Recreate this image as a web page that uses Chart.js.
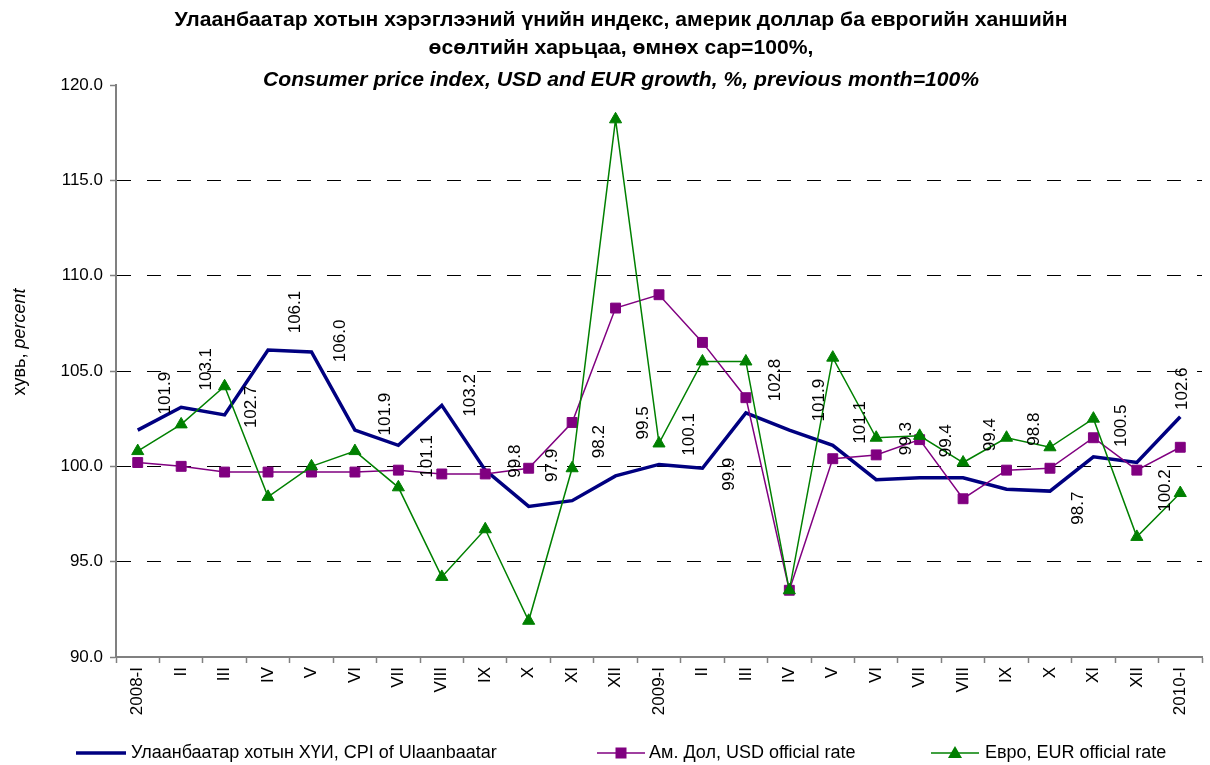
<!DOCTYPE html>
<html>
<head>
<meta charset="utf-8">
<script src="https://cdn.jsdelivr.net/npm/chart.js@4.4.0/dist/chart.umd.min.js"></script>
<style>
  html, body { margin: 0; padding: 0; background: #fff; }
</style>
</head>
<body>
<canvas id="cpi-chart" width="1210" height="765"></canvas>
<script>
// months on the x axis
var months = ["2008-I", "II", "III", "IV", "V", "VI", "VII", "VIII", "IX", "X", "XI", "XII",
              "2009-I", "II", "III", "IV", "V", "VI", "VII", "VIII", "IX", "X", "XI", "XII",
              "2010-I"];

// previous month = 100
var cpiValues = [101.9, 103.1, 102.7, 106.1, 106.0, 101.9, 101.1, 103.2, 99.8, 97.9, 98.2, 99.5,
                 100.1, 99.9, 102.8, 101.9, 101.1, 99.3, 99.4, 99.4, 98.8, 98.7, 100.5, 100.2,
                 102.6];
var usdValues = [100.2, 100.0, 99.7, 99.7, 99.7, 99.7, 99.8, 99.6, 99.6, 99.9, 102.3, 108.3,
                 109.0, 106.5, 103.6, 93.5, 100.4, 100.6, 101.4, 98.3, 99.8, 99.9, 101.5, 99.8,
                 101.0];
var eurValues = [100.8, 102.2, 104.2, 98.4, 100.0, 100.8, 98.9, 94.2, 96.7, 91.9, 99.9, 118.2,
                 101.2, 105.5, 105.5, 93.5, 105.7, 101.5, 101.6, 100.2, 101.5, 101.0, 102.5, 96.3,
                 98.6];

var yMin = 90, yMax = 120, yStep = 5;

var seriesNames = ["Улаанбаатар хотын ХҮИ, CPI of Ulaanbaatar",
                   "Ам. Дол, USD official rate",
                   "Евро, EUR official rate"];
var titleLines = ["Улаанбаатар хотын хэрэглээний үнийн индекс, америк доллар ба еврогийн ханшийн",
                  "өсөлтийн харьцаа, өмнөх сар=100%,",
                  "Consumer price index, USD and EUR growth, %, previous month=100%"];

var navy = "#000080", purple = "#800080", green = "#008000";
var fontFamily = "'Liberation Sans', Arial, sans-serif";

// the value labels were hand-placed in the original, so nudge them a bit (px)
var labelDx = [28, 25, 27, 27, 29, 30, 29, 29, 30, 24, 27, 28,
               30, 27, 29, 30, 28, 30, 27, 27, 28, 28, 28, 28, 2];
var labelDy = [-37, -38, -8, -38, -11, -16, 11, -10, -9, -41, -59, -53,
               -30, 6, -33, -30, -23, -41, -37, -43, -60, 17, -31, 28, -28];

// titles, axis title, value labels and legend
var extrasPlugin = {
    id: "extras",
    afterDatasetsDraw: function(chart) {
        var ctx = chart.ctx;
        ctx.save();
        ctx.fillStyle = "#000";
        ctx.textAlign = "center";
        ctx.textBaseline = "middle";

        // title: condensed bold, squeezed to the width of the original
        ctx.font = "bold 21px " + fontFamily;
        var squeeze = 893 / ctx.measureText(titleLines[0]).width;
        var titleY = [20, 48, 80];
        for (var t = 0; t < titleLines.length; t++) {
            ctx.font = (t === 2 ? "italic " : "") + "bold 21px " + fontFamily;
            ctx.save();
            ctx.translate(621, titleY[t]);
            ctx.scale(squeeze, 1);
            ctx.fillText(titleLines[t], 0, 0);
            ctx.restore();
        }

        // y axis title, mixed upright / italic
        ctx.save();
        ctx.translate(20, 342);
        ctx.rotate(-Math.PI / 2);
        ctx.textAlign = "left";
        var part1 = "хувь, ";
        ctx.font = "18px " + fontFamily;
        var w1 = ctx.measureText(part1).width;
        ctx.font = "italic 18px " + fontFamily;
        var w2 = ctx.measureText("percent").width;
        var start = -(w1 + w2) / 2;
        ctx.font = "18px " + fontFamily;
        ctx.fillText(part1, start, 0);
        ctx.font = "italic 18px " + fontFamily;
        ctx.fillText("percent", start + w1, 0);
        ctx.restore();

        // CPI value labels, rotated
        var meta = chart.getDatasetMeta(0);
        ctx.font = "17px " + fontFamily;
        meta.data.forEach(function(pt, i) {
            ctx.save();
            ctx.translate(pt.x + labelDx[i], pt.y + labelDy[i]);
            ctx.rotate(-Math.PI / 2);
            ctx.fillText(cpiValues[i].toFixed(1), 0, 0);
            ctx.restore();
        });

        // legend
        var ly = 753;
        ctx.textAlign = "left";
        ctx.font = "18px " + fontFamily;

        ctx.strokeStyle = navy;
        ctx.lineWidth = 3.5;
        ctx.beginPath(); ctx.moveTo(76, ly); ctx.lineTo(126, ly); ctx.stroke();
        ctx.fillText(seriesNames[0], 131, ly);

        ctx.strokeStyle = purple;
        ctx.lineWidth = 1.5;
        ctx.beginPath(); ctx.moveTo(597, ly); ctx.lineTo(645, ly); ctx.stroke();
        ctx.fillStyle = purple;
        ctx.fillRect(621 - 5.5, ly - 5.5, 11, 11);
        ctx.fillStyle = "#000";
        ctx.fillText(seriesNames[1], 649, ly);

        ctx.strokeStyle = green;
        ctx.beginPath(); ctx.moveTo(931, ly); ctx.lineTo(979, ly); ctx.stroke();
        ctx.fillStyle = green;
        ctx.beginPath();
        ctx.moveTo(955, ly - 7); ctx.lineTo(962, ly + 5); ctx.lineTo(948, ly + 5);
        ctx.closePath(); ctx.fill();
        ctx.fillStyle = "#000";
        ctx.fillText(seriesNames[2], 985, ly);

        ctx.restore();
    }
};

Chart.defaults.font.family = fontFamily;
Chart.defaults.color = "#000";

var ctx = document.getElementById("cpi-chart");
var cpiChart = new Chart(ctx, {
    type: "line",
    data: {
        labels: months,
        datasets: [{
            label: seriesNames[0],
            data: cpiValues,
            borderColor: navy,
            borderWidth: 3.5,
            pointRadius: 0,
            tension: 0,
            order: 2
        }, {
            label: seriesNames[1],
            data: usdValues,
            borderColor: purple,
            backgroundColor: purple,
            borderWidth: 1.5,
            pointStyle: "rect",
            pointRadius: 7,
            pointBorderWidth: 1,
            tension: 0,
            order: 1
        }, {
            label: seriesNames[2],
            data: eurValues,
            borderColor: green,
            backgroundColor: green,
            borderWidth: 1.5,
            pointStyle: "triangle",
            pointRadius: 7,
            pointBorderWidth: 1,
            tension: 0,
            order: 0
        }]
    },
    options: {
        responsive: false,
        animation: false,
        devicePixelRatio: 1,
        layout: { padding: { top: 85, right: 5, bottom: 28, left: 0 } },
        plugins: {
            legend: { display: false },
            title: { display: false },
            tooltip: { enabled: false }
        },
        scales: {
            x: {
                offset: true,
                grid: {
                    offset: true,
                    color: "rgba(0,0,0,0)",
                    tickColor: "#808080",
                    tickLength: 6,
                    tickWidth: 1.5
                },
                border: { color: "#808080", width: 2 },
                ticks: {
                    minRotation: 90,
                    maxRotation: 90,
                    autoSkip: false,
                    padding: 4,
                    font: { size: 17 }
                },
                afterFit: function(scale) { scale.height = 80; }
            },
            y: {
                min: yMin,
                max: yMax,
                grid: {
                    color: function(c) {
                        return (c.tick && (c.tick.value === yMin || c.tick.value === yMax)) ? "rgba(0,0,0,0)" : "#000";
                    },
                    lineWidth: 1,
                    tickColor: "#808080",
                    tickLength: 6,
                    tickWidth: 1.5
                },
                border: { color: "#808080", width: 2, dash: [14, 16] },
                ticks: {
                    stepSize: yStep,
                    padding: 7,
                    font: { size: 17 },
                    callback: function(v) { return v.toFixed(1); }
                },
                afterFit: function(scale) { scale.width = 116; }
            }
        }
    },
    plugins: [extrasPlugin]
});
</script>
</body>
</html>
